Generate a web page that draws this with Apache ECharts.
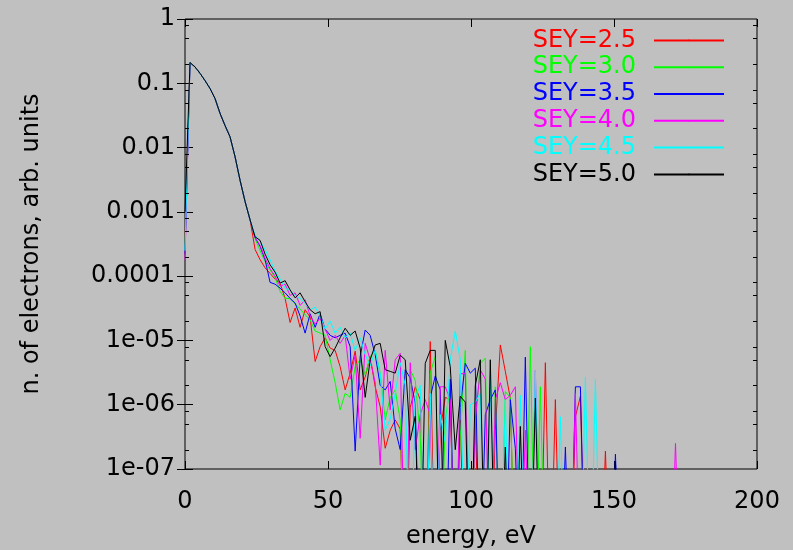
<!DOCTYPE html>
<html><head><meta charset="utf-8">
<script src="https://cdn.jsdelivr.net/npm/echarts@6/dist/echarts.min.js"></script>
<style>html,body{margin:0;padding:0;background:#c0c0c0}#c{width:793px;height:550px}</style>
</head><body><div id="c"></div>
<script>
// energy grid (eV)
const energies = [0,1.75,3.5,5.25,7,8.75,10.5,12.25,14,15.75,
17.5,19.25,21,22.75,24.5,26.25,28,29.75,31.5,33.25,
35,36.75,38.5,40.25,42,43.75,45.5,47.25,49,50.75,
52.5,54.25,56,57.75,59.5,61.25,63,64.75,66.5,68.25,
70,71.75,73.5,75.25,77,78.75,80.5,82.25,84,85.75,
87.5,89.25,91,92.75,94.5,96.25,98,99.75,101.5,103.25,
105,106.75,108.5,110.25,112,113.75,115.5,117.25,119,120.75,
122.5,124.25,126,127.75,129.5,131.25,133,134.75,136.5,138.25,
140,141.75,143.5,145.25,147,148.75,150.5,152.25,154,155.75,
157.5,159.25,161,162.75,164.5,166.25,168,169.75,171.5,173.25];

const seriesNames = ["SEY=2.5","SEY=3.0","SEY=3.5","SEY=4.0","SEY=4.5","SEY=5.0"];
const seriesColors = ["#ff0000","#00ff00","#0000ff","#ff00ff","#00ffff","#000000"];

// 1e-9 = below the plotted range
const sey25 = [3e-4,0.21,0.18,0.143,0.11,0.083,0.058,0.034,0.022,0.0147,
0.0072,0.0031,0.00145,0.00075,2.6e-4,1.8e-4,1.35e-4,1.1e-4,9e-5,7.7e-5,
4.5e-5,1.9e-5,3.2e-5,1.6e-5,3e-5,2.3e-5,4.7e-6,8e-6,1.1e-5,7.6e-6,
7e-6,3.9e-6,1.7e-6,3.1e-6,6.8e-6,1.7e-6,2.7e-6,5.6e-6,1.9e-6,9.3e-7,
2.1e-7,4e-7,5.8e-7,4.2e-7,1e-9,9e-7,1.9e-6,1.2e-6,1e-9,9.6e-6,
1e-9,4e-7,1.3e-6,1.2e-6,1e-9,5.8e-7,1e-9,1e-9,5.8e-7,1e-9,
1e-9,1e-9,4e-7,8.5e-6,3.3e-6,1.26e-6,1e-9,1e-9,1e-9,1e-9,
1e-9,1e-9,4.5e-6,1e-9,1.2e-6,1e-9,1e-9,1e-9,6.5e-7,1.35e-6,
1e-9,1e-9,1e-9,1e-9,1.9e-7,1e-9];

const sey30 = [2.5e-4,0.21,0.18,0.143,0.11,0.083,0.058,0.034,0.022,0.0147,
0.0072,0.0031,0.00145,0.00075,3.8e-4,2.5e-4,1.7e-4,1.25e-4,9.5e-5,5.8e-5,
4.5e-5,4.5e-5,3.7e-5,3.1e-5,2.5e-5,2.1e-5,1.4e-5,1.3e-5,1.2e-5,5e-6,
2.2e-6,8.3e-7,1.5e-6,1.3e-6,3.9e-6,5e-6,2.9e-6,5.6e-6,7e-6,3.1e-6,
5.8e-7,1.3e-6,1.7e-6,5.8e-7,1e-9,3.5e-6,2.4e-6,3.2e-7,1e-9,3.1e-6,
5.6e-6,1e-9,5.8e-7,1.9e-6,1e-9,3.2e-7,7e-6,1e-9,5e-7,4.4e-6,
5.3e-6,1e-9,1.9e-6,1e-9,1.6e-6,1.3e-6,1e-9,1e-9,1e-9,8e-6,
1e-9,1.9e-6,1e-9];

const sey35 = [2.2e-4,0.21,0.18,0.143,0.11,0.083,0.058,0.034,0.022,0.0147,
0.0072,0.0031,0.00145,0.00075,4e-4,2.9e-4,1.8e-4,8e-5,7.5e-5,6.5e-5,
5.5e-5,4.5e-5,3.8e-5,2.4e-5,1.3e-5,2.6e-5,1.6e-5,2.6e-5,1.5e-5,1.2e-5,
1.1e-5,1.2e-5,1.3e-5,8e-6,1.9e-7,5.6e-6,1.45e-5,1.2e-5,6e-6,2e-6,
1.7e-6,2.3e-6,4.2e-7,2e-7,3.5e-6,2.6e-6,1.05e-6,1e-9,1e-9,1.3e-6,
2.8e-6,1.7e-6,1e-9,2.5e-6,1e-9,9e-7,4.4e-6,3.1e-6,3.7e-6,1e-9,
7e-7,1.2e-6,1.7e-6,1e-9,1e-9,1.2e-6,2.1e-7,1e-9,5.5e-6,1e-9,
1e-9,1e-9,1e-9,1e-9,1e-9,1e-9,2.2e-7,1e-9,1.9e-6,1.9e-6,
1e-9,1e-9,1e-9,1e-9,1e-9,1e-9,1.7e-7,1e-9];

const sey40 = [1.8e-4,0.21,0.18,0.143,0.11,0.083,0.058,0.034,0.022,0.0147,
0.0072,0.0031,0.00145,0.00075,4e-4,3e-4,1.9e-4,1.3e-4,1e-4,7e-5,
7.5e-5,5e-5,5.5e-5,3.5e-5,4.3e-5,2.4e-5,1.8e-5,2.2e-5,1.5e-5,1e-5,
1.2e-5,9e-6,1.2e-5,2.5e-6,5.9e-6,3e-7,9e-6,5e-6,2.2e-6,1.15e-7,
7e-6,8.3e-7,5e-6,6.3e-6,1e-9,4.5e-6,2e-7,7e-7,1.2e-6,7e-7,
1e-9,1.9e-6,1.9e-6,1.2e-6,1e-9,3e-6,3.1e-6,1e-9,6e-7,3.5e-6,
2.5e-6,1e-9,1.2e-6,2.2e-6,1.2e-6,1.4e-6,1.9e-6,1e-9,4e-7,1e-9,
3.4e-6,1e-9,1e-9,1e-9,1e-9,1e-9,1e-9,1e-9,1.5e-6,1e-9,
1e-9,1e-9,1e-9,1e-9,1e-9,1e-9,1e-9,1e-9,1e-9,1e-9,
1e-9,1e-9,1e-9,1e-9,1e-9,1e-9,1e-9,1e-9,2.5e-7,1e-9];

const sey45 = [2.5e-4,0.21,0.18,0.143,0.11,0.083,0.058,0.034,0.022,0.0147,
0.0072,0.0031,0.00145,0.00075,4.3e-4,3.5e-4,2.6e-4,1.8e-4,1.2e-4,9e-5,
6.5e-5,6e-5,5e-5,4.5e-5,3.8e-5,3e-5,3.3e-5,2.4e-5,1.5e-5,2e-5,
1.3e-5,1.6e-5,1.1e-5,1.3e-5,7e-6,1.1e-5,6e-6,4e-6,7e-6,3e-6,
4e-7,6e-7,1.5e-6,4.5e-6,2e-6,1e-9,1.3e-6,2e-6,1e-9,1.5e-6,
1e-9,7e-7,2.6e-7,5e-6,1.4e-5,5e-6,1e-9,1e-6,1.1e-6,1.5e-6,
1e-9,3e-6,1e-9,1e-9,1.2e-6,1e-9,1e-9,1.4e-6,1e-9,1e-9,
3.4e-6,1e-9,1e-9,1e-9,1e-9,6.5e-7,1e-9,1e-9,1e-9,1e-9,
2.7e-6,1e-9,2.5e-6,1e-9];

const sey50 = [1e-3,0.21,0.18,0.143,0.11,0.083,0.058,0.034,0.022,0.0147,
0.0072,0.0031,0.00145,0.00075,4.1e-4,3.6e-4,2.2e-4,1.5e-4,1.15e-4,7.8e-5,
8.5e-5,6.1e-5,4.6e-5,5.5e-5,4e-5,3e-5,2.6e-5,2.8e-5,8e-6,5.6e-6,
7.6e-6,1.1e-5,1.55e-5,1.2e-5,1.4e-5,7.6e-6,1.3e-6,5e-6,8.5e-6,9e-6,
3.5e-6,3.3e-6,3.1e-6,5.9e-6,5e-6,2.8e-7,6.6e-7,1e-9,4.4e-6,7e-6,
7e-6,1e-9,1e-5,3.9e-6,2e-7,1.35e-6,1.1e-6,1e-9,2e-6,5e-6,
1e-9,5e-6,1e-9,1e-9,2.2e-7,1e-9,1e-9,4.6e-7,1e-9,1e-9,
1.27e-6,1e-9,1e-9,1e-9,1e-9,1e-9,1e-9,1e-9,1e-9,1e-9,
1e-9,1e-9,1e-9,1e-9,1e-9,1e-9,1.3e-7,1e-9];

const seriesValues = [sey25, sey30, sey35, sey40, sey45, sey50];

const xTickLabels = ["0","50","100","150","200"];
const yTickLabels = ["1e-07","1e-06","1e-05","0.0001","0.001","0.01","0.1","1"];
const yMinorTickValues = [2e-7,5e-7,8e-7,2e-6,5e-6,8e-6,2e-5,5e-5,8e-5,2e-4,5e-4,8e-4,
  2e-3,5e-3,8e-3,2e-2,5e-2,8e-2,0.2,0.5,0.8];
const xTitle = "energy, eV";
const yTitle = "n. of electrons, arb. units";

const FONT = "'DejaVu Sans', 'Liberation Sans', Arial, sans-serif";
const chart = echarts.init(document.getElementById('c'), null, {renderer: 'canvas'});

const lineSeries = seriesValues.map((vals, i) => ({
  name: seriesNames[i],
  type: 'line',
  xAxisIndex: 0, yAxisIndex: 0,
  data: vals.map((v, k) => [energies[k], v]),
  symbol: 'none',
  showSymbol: false,
  clip: true,
  lineStyle: {color: seriesColors[i], width: 1},
  itemStyle: {color: seriesColors[i]},
  z: 3 + i
}));

const minorTickSeries = {
  type: 'custom',
  xAxisIndex: 0, yAxisIndex: 0,
  silent: true,
  clip: false,
  z: 20,
  data: yMinorTickValues.map(v => [0, v]),
  renderItem: function (params, api) {
    const p = api.coord([0, api.value(1)]);
    const cs = params.coordSys;
    const y = Math.round(p[1]) + 0.5;
    return {type: 'group', children: [
      {type: 'line', shape: {x1: cs.x, y1: y, x2: cs.x + 4, y2: y}, style: {stroke: '#000', lineWidth: 1}},
      {type: 'line', shape: {x1: cs.x + cs.width - 4, y1: y, x2: cs.x + cs.width, y2: y}, style: {stroke: '#000', lineWidth: 1}}
    ]};
  }
};

const option = {
  backgroundColor: '#c0c0c0',
  animation: false,
  textStyle: {fontFamily: FONT},
  grid: {left: 185, top: 19, right: 36, bottom: 81, outerBoundsMode: 'none', containLabel: false,
    show: true, borderColor: '#000', borderWidth: 1, backgroundColor: 'transparent'},
  legend: {
    data: seriesNames.map((n, i) => ({name: n, textStyle: {color: seriesColors[i]}})),
    orient: 'vertical',
    right: 68, top: 27,
    padding: 0,
    align: 'right',
    itemWidth: 70, itemHeight: 2, itemGap: 0,
    selectedMode: false,
    textStyle: {fontFamily: FONT, fontSize: 24, lineHeight: 26.8, padding: [0, 13, 0, 0]}
  },
  xAxis: [{
    type: 'value', min: 0, max: 200, interval: 50,
    name: xTitle, nameLocation: 'middle', nameGap: 56,
    nameTextStyle: {fontFamily: FONT, fontSize: 24, color: '#000'},
    axisLine: {show: false},
    axisTick: {show: true, inside: true, length: 8, lineStyle: {color: '#000', width: 1}},
    axisLabel: {fontFamily: FONT, fontSize: 24, color: '#000', margin: 21,
      formatter: v => xTickLabels[Math.round(v / 50)]},
    splitLine: {show: false}
  }, {
    type: 'value', min: 0, max: 200, interval: 50, position: 'top',
    axisLine: {show: false},
    axisTick: {show: true, inside: true, length: 8, lineStyle: {color: '#000', width: 1}},
    axisLabel: {show: false},
    splitLine: {show: false}
  }],
  yAxis: [{
    type: 'log', logBase: 10, min: 1e-7, max: 1, splitNumber: 7,
    name: yTitle, nameLocation: 'middle', nameGap: 141,
    nameTextStyle: {fontFamily: FONT, fontSize: 24, color: '#000'},
    axisLine: {show: false},
    axisTick: {show: true, inside: true, length: 8, lineStyle: {color: '#000', width: 1}},
    axisLabel: {fontFamily: FONT, fontSize: 24, color: '#000', margin: 10,
      formatter: v => yTickLabels[Math.round(Math.log10(v)) + 7]},
    splitLine: {show: false}
  }, {
    type: 'log', logBase: 10, min: 1e-7, max: 1, splitNumber: 7, position: 'right',
    axisLine: {show: false},
    axisTick: {show: true, inside: true, length: 8, lineStyle: {color: '#000', width: 1}},
    axisLabel: {show: false},
    splitLine: {show: false}
  }],
  series: lineSeries.concat([minorTickSeries])
};
chart.setOption(option);
</script></body></html>
